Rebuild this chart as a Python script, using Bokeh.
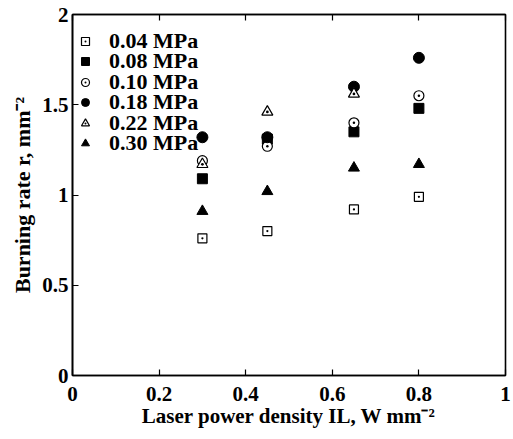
from bokeh.plotting import figure
from bokeh.models import (Range1d, FixedTicker, LinearAxis, Legend, LegendItem)
from bokeh.embed import file_html
from bokeh.resources import INLINE

# ---- data ----
laser = [0.3, 0.45, 0.65, 0.8]
r_004 = [0.76, 0.80, 0.92, 0.99]
r_008 = [1.09, 1.31, 1.35, 1.48]
r_010 = [1.19, 1.27, 1.40, 1.55]
r_018 = [1.32, 1.32, 1.60, 1.76]
laser_022 = [0.3, 0.45, 0.65]
r_022 = [1.17, 1.46, 1.56]
r_030 = [0.91, 1.02, 1.15, 1.17]
series_labels = ["0.04 MPa", "0.08 MPa", "0.10 MPa", "0.18 MPa", "0.22 MPa", "0.30 MPa"]
x_ticks = [0, 0.2, 0.4, 0.6, 0.8, 1.0]
x_tick_labels = ["0", "0.2", "0.4", "0.6", "0.8", "1"]
y_ticks = [0, 0.5, 1.0, 1.5, 2.0]
y_tick_labels = ["0", "0.5", "1", "1.5", "2"]
x_title = "Laser power density IL, W mm\u207b\u00b2"
y_title = "Burning rate r, mm\u207b\u00b2"

FONT = "Liberation Serif"

p = figure(width=513, height=439, output_backend="svg", toolbar_location=None,
           x_range=Range1d(0, 1), y_range=Range1d(0, 2),
           min_border_left=72, min_border_right=8, min_border_top=14, min_border_bottom=64,
           background_fill_color="white", border_fill_color="white")
p.grid.visible = False
p.outline_line_color = "black"
p.outline_line_width = 1.6

for ax, ticks, labels, title in ((p.xaxis[0], x_ticks, x_tick_labels, x_title),
                                 (p.yaxis[0], y_ticks, y_tick_labels, y_title)):
    ax.ticker = FixedTicker(ticks=ticks)
    ax.major_label_overrides = {t: l for t, l in zip(ticks, labels)}
    ax.major_tick_in = 6
    ax.major_tick_out = 0
    ax.minor_tick_line_color = None
    ax.axis_line_width = 1.6
    ax.major_tick_line_width = 1.2
    ax.major_label_text_font = FONT
    ax.major_label_text_font_style = "bold"
    ax.major_label_text_font_size = "21px"
    ax.major_label_text_color = "black"
    ax.axis_label = title
    ax.axis_label_text_font = FONT
    ax.axis_label_text_font_style = "bold"
    ax.axis_label_text_color = "black"
p.xaxis[0].major_label_standoff = 11
p.xaxis[0].axis_label_standoff = 0
p.xaxis[0].axis_label_text_font_size = "21px"
p.yaxis[0].major_label_standoff = 4
p.yaxis[0].axis_label_standoff = 4
p.yaxis[0].axis_label_text_font_size = "22px"

top = LinearAxis(ticker=FixedTicker(ticks=x_ticks), major_tick_in=6, major_tick_out=0,
                 minor_tick_line_color=None, major_label_text_font_size="1px",
                 major_label_text_alpha=0.0, major_label_standoff=0,
                 axis_line_width=1.6, major_tick_line_width=1.2)
p.add_layout(top, "above")

common_open = dict(fill_color="white", line_color="black", line_width=1.2)
r1 = p.scatter(laser, r_004, marker="square_dot", size=9, **common_open)
r2 = p.scatter(laser, r_008, marker="square", size=10, fill_color="black", line_color="black")
r3 = p.scatter(laser, r_010, marker="circle_dot", size=10, **common_open)
r4 = p.scatter(laser, r_018, marker="circle", size=11, fill_color="black", line_color="black")
r5 = p.scatter(laser_022, r_022, marker="triangle_dot", size=11, **common_open)
r6 = p.scatter(laser, r_030, marker="triangle", size=11, fill_color="black", line_color="black")
renderers = [r1, r2, r3, r4, r5, r6]

legend_style = dict(padding=0, margin=0, spacing=15,
                    label_height=20, glyph_height=20, glyph_width=20, label_standoff=14,
                    label_text_font=FONT, label_text_font_style="bold",
                    label_text_font_size="22px", label_text_color="black",
                    border_line_color=None, background_fill_alpha=0)
# two interleaved legends give the tight row pitch of the original
leg_a = Legend(items=[LegendItem(label=series_labels[i], renderers=[renderers[i]]) for i in (0, 2, 4)],
               location=(3, 239), **legend_style)
leg_b = Legend(items=[LegendItem(label=series_labels[i], renderers=[renderers[i]]) for i in (1, 3, 5)],
               location=(3, 219), **legend_style)
p.add_layout(leg_a, "center")
p.add_layout(leg_b, "center")

open("out.html", "w").write(file_html(p, INLINE))
